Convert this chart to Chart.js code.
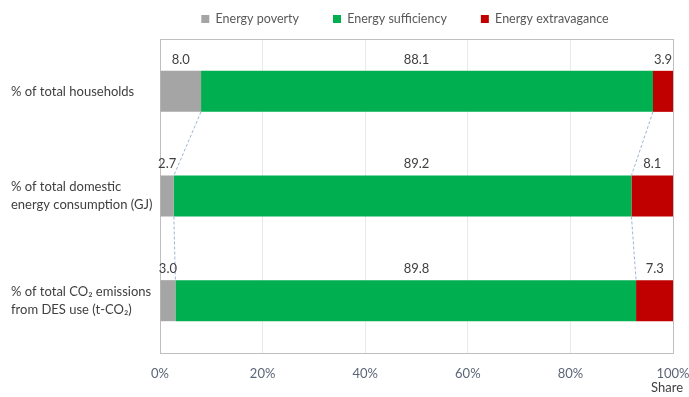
<!DOCTYPE html>
<html>
<head>
<meta charset="utf-8">
<script src="https://cdn.jsdelivr.net/npm/chart.js@4"></script>
<style>
  html, body { margin: 0; padding: 0; background: #ffffff; }
  #wrap { width: 689px; height: 397px; }
</style>
</head>
<body>
<div id="wrap"><canvas id="chart" width="689" height="397"></canvas></div>
<script>
// Categories (multi-line labels)
const categories = [
  ['% of total households'],
  ['% of total domestic', 'energy consumption (GJ)'],
  ['% of total CO\u2082 emissions', 'from DES use (t-CO\u2082)']
];

// Shares (%) for each group
const energyPoverty      = [8.0, 2.7, 3.0];
const energySufficiency  = [88.1, 89.2, 89.8];
const energyExtravagance = [3.9, 8.1, 7.3];

const seriesNames = ['Energy poverty', 'Energy sufficiency', 'Energy extravagance'];
const seriesColors = ['#a5a5a5', '#00b050', '#c00000'];

const xTicks = [0, 20, 40, 60, 80, 100];
const axisTitle = 'Share';

const FONT = 'Lato';
Chart.defaults.font.family = FONT;

const LEGEND_PAD = 34;

// Frame around the plot area
const framePlugin = {
  id: 'frame',
  beforeDatasetsDraw(chart) {
    const a = chart.chartArea, ctx = chart.ctx;
    ctx.save();
    ctx.strokeStyle = '#bfbfbf';
    ctx.lineWidth = 1;
    ctx.strokeRect(Math.round(a.left) + 0.5, Math.round(a.top) + 0.5,
                   Math.round(a.right - a.left), Math.round(a.bottom - a.top));
    ctx.restore();
  }
};

// Dashed connectors between segment boundaries of consecutive bars
const connectorPlugin = {
  id: 'connectors',
  afterDatasetsDraw(chart) {
    const ctx = chart.ctx;
    const m0 = chart.getDatasetMeta(0).data;
    const m1 = chart.getDatasetMeta(1).data;
    ctx.save();
    ctx.strokeStyle = '#9fb3d6';
    ctx.lineWidth = 1;
    ctx.setLineDash([3, 2]);
    for (let i = 0; i < m0.length - 1; i++) {
      [m0, m1].forEach(meta => {
        const a = meta[i], b = meta[i + 1];
        ctx.beginPath();
        ctx.moveTo(a.x, a.y + a.height / 2);
        ctx.lineTo(b.x, b.y - b.height / 2);
        ctx.stroke();
      });
    }
    ctx.restore();
  }
};

// Value labels above each bar, and the axis title
const labelPlugin = {
  id: 'valueLabels',
  afterDraw(chart) {
    const ctx = chart.ctx, area = chart.chartArea;
    ctx.save();
    ctx.font = '13px ' + FONT;
    ctx.fillStyle = '#404040';
    ctx.textAlign = 'center';
    ctx.textBaseline = 'alphabetic';
    chart.data.datasets.forEach((ds, di) => {
      chart.getDatasetMeta(di).data.forEach((el, i) => {
        const top = el.y - el.height / 2;
        let x = (el.x + el.base) / 2;
        if (di === 1) x = (area.left + area.right) / 2;
        ctx.fillText(ds.data[i].toFixed(1), x, top - 7);
      });
    });
    ctx.fillStyle = '#404040';
    ctx.textAlign = 'right';
    ctx.textBaseline = 'middle';
    ctx.fillText(axisTitle, area.right + 10, 388);
    ctx.restore();
  }
};

// Compact legend row placed over the plot
const legendPlace = {
  id: 'legendPlace',
  beforeUpdate(chart) {
    const lg = chart.legend;
    if (lg && !lg._compactFit) {
      const fit = lg.fit.bind(lg);
      lg.fit = function () { fit(); this.height = 35; };
      lg._compactFit = true;
    }
  },
  afterUpdate(chart) {
    const lg = chart.legend;
    const dx = 63;
    lg.left += dx; lg.right += dx;
    lg.top = 19 - (LEGEND_PAD + 6.25);
  }
};

new Chart(document.getElementById('chart'), {
  type: 'bar',
  data: {
    labels: categories,
    datasets: [
      { label: seriesNames[0], data: energyPoverty, backgroundColor: seriesColors[0] },
      { label: seriesNames[1], data: energySufficiency, backgroundColor: seriesColors[1] },
      { label: seriesNames[2], data: energyExtravagance, backgroundColor: seriesColors[2] }
    ]
  },
  options: {
    indexAxis: 'y',
    responsive: false,
    animation: false,
    layout: { padding: { left: 11, right: 16, top: 4, bottom: 0 } },
    datasets: { bar: { barPercentage: 0.392, categoryPercentage: 1.0, borderWidth: 0 } },
    scales: {
      x: {
        stacked: true,
        min: 0, max: 100,
        afterBuildTicks(scale) { scale.ticks = xTicks.map(v => ({ value: v })); },
        ticks: {
          callback: v => v + '%',
          color: '#5b6577',
          font: { size: 13 },
          padding: 13,
          maxRotation: 0
        },
        grid: {
          color: ctx => (ctx.tick && (ctx.tick.value === 0 || ctx.tick.value === 100)) ? '#bfbfbf' : '#e6eaef',
          drawTicks: false
        },
        border: { color: '#bfbfbf' },
        afterFit(scale) {
          scale.height = 44;
          scale.paddingLeft = 0;
          scale.paddingRight = 0;
        }
      },
      y: {
        stacked: true,
        grid: { display: false },
        border: { color: '#bfbfbf' },
        ticks: {
          crossAlign: 'far',
          color: '#404040',
          font: { size: 13, lineHeight: 1.35 },
          padding: 0
        },
        afterFit(scale) { scale.width = 149; }
      }
    },
    plugins: {
      legend: {
        position: 'top',
        labels: {
          boxWidth: 8,
          boxHeight: 8,
          color: '#595959',
          font: { size: 12.5 },
          padding: LEGEND_PAD
        }
      },
      tooltip: { enabled: false }
    }
  },
  plugins: [framePlugin, connectorPlugin, labelPlugin, legendPlace]
});
</script>
</body>
</html>
